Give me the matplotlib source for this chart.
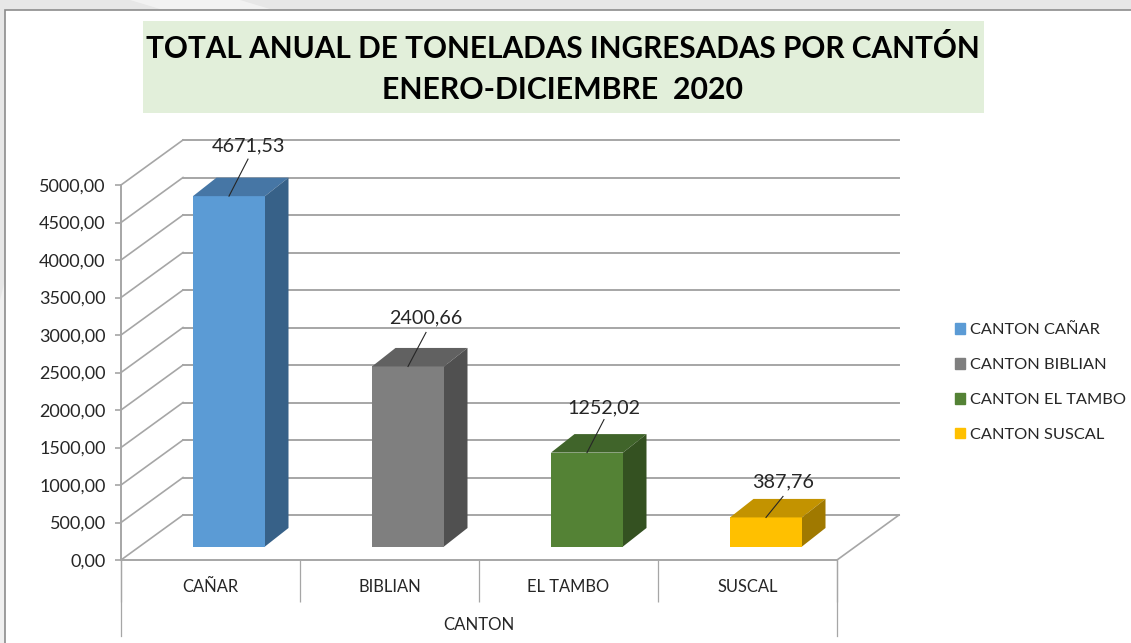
#!/usr/bin/env python3
import matplotlib
matplotlib.use("Agg")
import numpy as np
import matplotlib.pyplot as plt
from matplotlib.patches import Patch, Polygon, Rectangle

# datos
cantones = ["CAÑAR", "BIBLIAN", "EL TAMBO", "SUSCAL"]
series = ["CANTON CAÑAR", "CANTON BIBLIAN", "CANTON EL TAMBO", "CANTON SUSCAL"]
toneladas = [4671.53, 2400.66, 1252.02, 387.76]
etiquetas = ["4671,53", "2400,66", "1252,02", "387,76"]
y_ticks = [0, 500, 1000, 1500, 2000, 2500, 3000, 3500, 4000, 4500, 5000]
y_labels = ["0,00", "500,00", "1000,00", "1500,00", "2000,00", "2500,00",
            "3000,00", "3500,00", "4000,00", "4500,00", "5000,00"]

# colores: frente, tapa, lado
C_FRONT = ["#5b9bd5", "#7f7f7f", "#548235", "#ffc000"]
C_TOP = ["#4676a5", "#616161", "#40642a", "#c39300"]
C_SIDE = ["#376188", "#505050", "#345121", "#a07900"]
C_GRID = "#a6a6a6"

W, H = 1131, 643
plt.rcParams["font.family"] = ["Lato", "DejaVu Sans"]

# axes = parte frontal del grafico, en pixeles de la imagen
L, R, T, B = 121, 837, 185, 560
fig = plt.figure(figsize=(W / 100, H / 100), dpi=100, facecolor="#e7e7e7")
U = fig.transFigure


def fx(px):
    return px / W


def fy(py):
    return 1 - py / H


# fondo y marco
fig.add_artist(Polygon([(fx(0), fy(300)), (fx(5), fy(280)), (fx(5), fy(643)), (fx(0), fy(643))],
                       transform=U, facecolor="#f0f0f0", edgecolor="none"))
fig.add_artist(Polygon([(fx(130), fy(0)), (fx(160), fy(9)), (fx(270), fy(9)), (fx(240), fy(0))],
                       transform=U, facecolor="#f2f2f2", edgecolor="none"))
fig.add_artist(Rectangle((fx(4.5), fy(660)), fx(W), fy(9.5) - fy(660), transform=U,
                         facecolor="white", edgecolor="#8c8c8c", linewidth=1.2))
fig.add_artist(Rectangle((fx(143), fy(113)), fx(841), fy(21) - fy(113), transform=U,
                         facecolor="#e2efda", edgecolor="none"))
fig.text(fx(563), fy(49), "TOTAL ANUAL DE TONELADAS INGRESADAS POR CANTÓN",
         ha="center", va="center", fontsize=21.4, fontweight="bold", color="black")
fig.text(fx(563), fy(90), "ENERO-DICIEMBRE  2020",
         ha="center", va="center", fontsize=21.8, fontweight="bold", color="black")

ax = fig.add_axes([fx(L), fy(B), fx(R - L), (B - T) / H])
ax.set_zorder(5)
ax.set_facecolor("none")
ax.set_xlim(0, len(cantones))
ax.set_ylim(0, 5000)
PX = len(cantones) / (R - L)   # categorias por pixel
PY = 5000 / (B - T)            # toneladas por pixel

# paredes: 62 px de fondo
dx_w, dy_w = 62 * PX, 45 * PY
for v in y_ticks:
    ax.plot([0, dx_w], [v, v + dy_w], color=C_GRID, lw=1.2, clip_on=False, zorder=1)
    ax.plot([dx_w, len(cantones) + dx_w], [v + dy_w, v + dy_w], color=C_GRID, lw=1.4,
            clip_on=False, zorder=1)
ax.plot([len(cantones), len(cantones) + dx_w], [0, dy_w], color=C_GRID, lw=1.2, clip_on=False, zorder=1)

# barras 3d
pos = np.arange(len(cantones)) + 72 * PX
ancho = 72 * PX
piso = 13.5 * PY
dx_b, dy_b = 23.5 * PX, 18.5 * PY
ax.bar(pos, toneladas, width=ancho, bottom=piso, align="edge", color=C_FRONT, linewidth=0,
       clip_on=False, zorder=3)
for x0, v, ct, cs in zip(pos, toneladas, C_TOP, C_SIDE):
    y1 = v + piso
    x1 = x0 + ancho
    ax.add_patch(Polygon([(x0, y1), (x1, y1), (x1 + dx_b, y1 + dy_b), (x0 + dx_b, y1 + dy_b)],
                         facecolor=ct, edgecolor="none", clip_on=False, zorder=3))
    ax.add_patch(Polygon([(x1, piso), (x1 + dx_b, piso + dy_b), (x1 + dx_b, y1 + dy_b), (x1, y1)],
                         facecolor=cs, edgecolor="none", clip_on=False, zorder=3))

# etiquetas con linea guia (desplazamiento en px desde el centro de la tapa)
guia = [(19, 37), (18, 34), (17, 33), (17, 21)]
texto_dy = [13, 15, 12, 15]
for x0, v, t, (gx, gy), tdy in zip(pos, toneladas, etiquetas, guia, texto_dy):
    xc = x0 + ancho / 2
    y1 = v + piso
    ax.plot([xc, xc + gx * PX], [y1, y1 + gy * PY], color="#262626", lw=0.8, clip_on=False, zorder=4)
    ax.text(xc + gx * PX, y1 + (gy + tdy) * PY, t, ha="center", va="center", fontsize=14.2,
            color="#262626", zorder=5)

# ejes
for s in ["top", "right"]:
    ax.spines[s].set_visible(False)
for s in ["left", "bottom"]:
    ax.spines[s].set_color(C_GRID)
    ax.spines[s].set_linewidth(1.4)
    ax.spines[s].set_zorder(2)
ax.set_yticks(y_ticks)
ax.set_yticklabels(y_labels)
ax.tick_params(axis="y", length=4.5, width=1.2, color=C_GRID, labelsize=13, labelcolor="#262626", pad=6.5)

ax.set_xticks(np.arange(len(cantones) + 1))
ax.set_xticklabels([])
ax.tick_params(axis="x", which="major", length=30, width=0.9, color=C_GRID)
ax.set_xticks(np.arange(len(cantones)) + 0.5, minor=True)
ax.set_xticklabels(cantones, minor=True)
ax.tick_params(axis="x", which="minor", length=0, pad=14, labelsize=11.9, labelcolor="#262626")

# prolonga los bordes de la tabla de categorias
tr = ax.get_xaxis_transform()
for x in [0, len(cantones)]:
    ax.plot([x, x], [0, -76 / (B - T)], transform=tr, color=C_GRID, lw=0.9, clip_on=False)
ax.text(len(cantones) / 2, -65 / (B - T), "CANTON", transform=tr, ha="center", va="center",
        fontsize=12.1, color="#262626")

handles = [Patch(color=c, label=s) for c, s in zip(C_FRONT, series)]
leg = fig.legend(handles=handles, loc="center left", bbox_to_anchor=(fx(955), fy(382.5)), frameon=False,
                 fontsize=11.75, labelspacing=1.28, handlelength=0.62, handleheight=0.62,
                 handletextpad=0.28, labelcolor="#262626", borderpad=0, borderaxespad=0)
leg.set_zorder(6)

fig.savefig("out.png", dpi=100, facecolor=fig.get_facecolor())
